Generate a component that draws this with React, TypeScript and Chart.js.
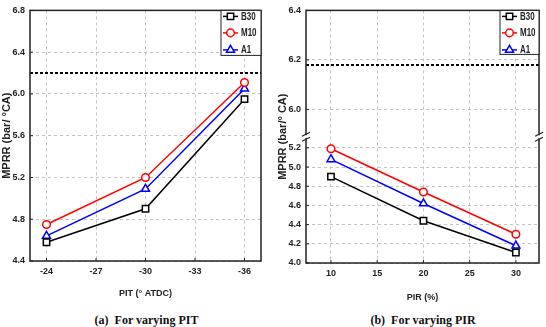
import React, { useEffect, useRef } from 'react';
import { Chart, registerables } from 'chart.js';
Chart.register(...registerables);

// ---------- data ----------
const SERIES = ['B30', 'M10', 'A1'];
const COLORS = ['#000000', '#ff0000', '#0000ff'];
const STYLES = ['rect', 'circle', 'triangle'];
const RADII = [4.5, 3.8, 4.6];

const pitX = [-24, -30, -36];
const pitB30 = [4.58, 4.9, 5.95];
const pitM10 = [4.75, 5.2, 6.11];
const pitA1 = [4.64, 5.09, 6.05];
const pitTicksX = [-24, -27, -30, -33, -36];
const pitTicksY = [4.4, 4.8, 5.2, 5.6, 6.0, 6.4, 6.8];
const pitLimit = 6.2;

const pirX = [10, 20, 30];
const pirB30 = [4.9, 4.44, 4.11];
const pirM10 = [5.19, 4.74, 4.3];
const pirA1 = [5.08, 4.62, 4.18];
const pirTicksX = [10, 15, 20, 25, 30];
const pirTicksYLow = [4.0, 4.2, 4.4, 4.6, 4.8, 5.0, 5.2];
const pirTicksYHigh = [6.0, 6.2, 6.4];
const pirLimit = 6.18;

// ---------- styles ----------
const SANS = "'Liberation Sans', Arial, sans-serif";
const TICK_FONT = { family: SANS, size: 9, weight: 'bold' as const };
const INK = '#222';

function drawMarker(ctx: CanvasRenderingContext2D, style: string, x: number, y: number, r: number) {
  ctx.beginPath();
  if (style === 'rect') {
    const s = Math.SQRT1_2 * r;
    ctx.rect(x - s, y - s, 2 * s, 2 * s);
  } else if (style === 'circle') {
    ctx.arc(x, y, r, 0, Math.PI * 2);
  } else {
    for (let i = 0; i < 3; i++) {
      const a = (i * 2 * Math.PI) / 3;
      const px = x + Math.sin(a) * r;
      const py = y - Math.cos(a) * r;
      if (i === 0) ctx.moveTo(px, py);
      else ctx.lineTo(px, py);
    }
    ctx.closePath();
  }
  ctx.fill();
  ctx.stroke();
}

function seriesDatasets(xs: number[], ys: number[][]) {
  return ys.map((vals, i) => ({
    label: SERIES[i],
    data: xs.map((x, j) => ({ x, y: vals[j] })),
    borderColor: COLORS[i],
    backgroundColor: '#ffffff',
    pointBackgroundColor: '#ffffff',
    pointBorderColor: COLORS[i],
    pointStyle: STYLES[i],
    pointRadius: RADII[i],
    pointBorderWidth: 1.5,
    borderWidth: 1.5,
    yAxisID: 'y',
  }));
}

function limitDataset(x0: number, x1: number, y: number, axis: string) {
  return {
    label: 'limit',
    data: [{ x: x0, y }, { x: x1, y }],
    borderColor: '#000000',
    borderDash: [3, 2],
    borderWidth: 2,
    pointRadius: 0,
    yAxisID: axis,
  };
}

function framePlugin(opts: { legendW: number; legendH: number; breakAxis?: string; yTitle?: { text: string; x: number } }) {
  return {
    id: 'frameDeco',
    afterDraw(chart: any) {
      const ctx: CanvasRenderingContext2D = chart.ctx;
      const a = chart.chartArea;
      ctx.save();
      ctx.strokeStyle = INK;
      ctx.lineWidth = 1;
      ctx.setLineDash([]);
      const line = (x1: number, y1: number, x2: number, y2: number) => {
        ctx.beginPath();
        ctx.moveTo(x1, y1);
        ctx.lineTo(x2, y2);
        ctx.stroke();
      };
      // inward tick marks
      const xs = chart.scales.x;
      xs.ticks.forEach((t: any) => {
        const px = xs.getPixelForValue(t.value);
        line(px, a.bottom, px, a.bottom - 3);
      });
      Object.values(chart.scales).forEach((s: any) => {
        if (s.axis !== 'y') return;
        s.ticks.forEach((t: any) => {
          const py = s.getPixelForValue(t.value);
          line(a.left, py, a.left + 3, py);
        });
      });
      // frame
      ctx.lineWidth = 1.5;
      ctx.strokeRect(a.left, a.top, a.right - a.left, a.bottom - a.top);
      // axis break
      if (opts.breakAxis) {
        const by = chart.scales[opts.breakAxis].bottom;
        [a.left, a.right].forEach((bx: number) => {
          ctx.fillStyle = '#ffffff';
          ctx.fillRect(bx - 2, by - 1.5, 4, 3);
          ctx.lineWidth = 1.2;
          line(bx - 4, by - 0.5, bx + 4, by - 4.5);
          line(bx - 4, by + 4.5, bx + 4, by + 0.5);
        });
      }
      // legend
      const lx = a.right - opts.legendW;
      const ly = a.top;
      ctx.fillStyle = '#ffffff';
      ctx.fillRect(lx, ly, opts.legendW, opts.legendH);
      ctx.lineWidth = 1;
      ctx.strokeStyle = INK;
      ctx.strokeRect(lx, ly, opts.legendW, opts.legendH);
      const rows = [6, 22.5, 39.5];
      SERIES.forEach((name, i) => {
        const y = ly + rows[i];
        ctx.strokeStyle = COLORS[i];
        ctx.lineWidth = 1.5;
        line(lx + 2, y, lx + 17, y);
        ctx.fillStyle = '#ffffff';
        drawMarker(ctx, STYLES[i], lx + 9.5, y, RADII[i]);
        // condensed label
        ctx.save();
        ctx.translate(lx + 20, y + 0.5);
        ctx.scale(0.8, 1);
        ctx.font = `bold 10px ${SANS}`;
        ctx.textBaseline = 'middle';
        ctx.textAlign = 'left';
        ctx.fillStyle = INK;
        ctx.fillText(name, 0, 0);
        ctx.restore();
      });
      // custom y title
      if (opts.yTitle) {
        ctx.save();
        ctx.translate(opts.yTitle.x, (a.top + a.bottom) / 2);
        ctx.rotate(-Math.PI / 2);
        ctx.font = `bold 11px ${SANS}`;
        ctx.fillStyle = INK;
        ctx.textAlign = 'center';
        ctx.textBaseline = 'middle';
        ctx.fillText(opts.yTitle.text, 0, 0);
        ctx.restore();
      }
      ctx.restore();
    },
  };
}

const gridOpt = { color: '#c4c4c4', lineWidth: 1, drawTicks: false };
const borderOpt = { display: false, dash: [3, 3] };
const tickOpt = { color: INK, font: TICK_FONT, padding: 5, autoSkip: false, maxRotation: 0 };
const setTicks = (arr: number[]) => (s: any) => {
  s.ticks = arr.map((v) => ({ value: v }));
};

function buildLeft(): any {
  return {
    type: 'line',
    data: {
      datasets: [...seriesDatasets(pitX, [pitB30, pitM10, pitA1]), limitDataset(-23, -37, pitLimit, 'y')],
    },
    options: {
      animation: false,
      responsive: false,
      layout: { padding: { top: 10, right: 12, left: 0, bottom: 0 } },
      plugins: { legend: { display: false }, tooltip: { enabled: false } },
      scales: {
        x: {
          type: 'linear',
          reverse: true,
          min: -37,
          max: -23,
          afterBuildTicks: setTicks(pitTicksX),
          afterFit: (s: any) => { s.height = 52; },
          grid: gridOpt,
          border: borderOpt,
          ticks: { ...tickOpt, callback: (v: any) => String(v) },
          title: { display: true, text: 'PIT (° ATDC)', color: INK, font: TICK_FONT, padding: { top: 0, bottom: 14.5 } },
        },
        y: {
          type: 'linear',
          min: 4.4,
          max: 6.8,
          afterBuildTicks: setTicks(pitTicksY),
          afterFit: (s: any) => { s.width = 30; },
          grid: gridOpt,
          border: borderOpt,
          ticks: { ...tickOpt, callback: (v: any) => Number(v).toFixed(1) },
          title: { display: true, text: 'MPRR (bar/ °CA)', color: INK, font: { family: SANS, size: 11, weight: 'bold' }, padding: { top: 0, bottom: 0 } },
        },
      },
    },
    plugins: [framePlugin({ legendW: 40, legendH: 45 })],
  };
}

function buildRight(): any {
  return {
    type: 'line',
    data: {
      datasets: [...seriesDatasets(pirX, [pirB30, pirM10, pirA1]), limitDataset(7.3, 32.5, pirLimit, 'y2')],
    },
    options: {
      animation: false,
      responsive: false,
      layout: { padding: { top: 9, right: 7, left: 0, bottom: 0 } },
      plugins: { legend: { display: false }, tooltip: { enabled: false } },
      scales: {
        x: {
          type: 'linear',
          min: 7.3,
          max: 32.5,
          afterBuildTicks: setTicks(pirTicksX),
          afterFit: (s: any) => { s.height = 50; },
          grid: gridOpt,
          border: borderOpt,
          ticks: { ...tickOpt, callback: (v: any) => String(v) },
          title: { display: true, text: 'PIR (%)', color: INK, font: TICK_FONT, padding: { top: 0, bottom: 10.5 } },
        },
        y: {
          type: 'linear',
          position: 'left',
          stack: 'ys',
          stackWeight: 1,
          min: 4.0,
          max: 5.316,
          afterBuildTicks: setTicks(pirTicksYLow),
          afterFit: (s: any) => { s.width = 33; },
          grid: gridOpt,
          border: borderOpt,
          ticks: { ...tickOpt, callback: (v: any) => Number(v).toFixed(1) },
        },
        y2: {
          type: 'linear',
          position: 'left',
          stack: 'ys',
          stackWeight: 1,
          min: 5.89,
          max: 6.4,
          afterBuildTicks: setTicks(pirTicksYHigh),
          afterFit: (s: any) => { s.width = 33; },
          grid: gridOpt,
          border: borderOpt,
          ticks: { ...tickOpt, callback: (v: any) => Number(v).toFixed(1) },
        },
      },
    },
    plugins: [framePlugin({ legendW: 39, legendH: 44, breakAxis: 'y2', yTitle: { text: 'MPRR (bar/° CA)', x: 10 } })],
  };
}

const captionStyle = (cx: number): React.CSSProperties => ({
  position: 'absolute',
  left: cx,
  top: 313,
  transform: 'translateX(-50%)',
  font: "bold 12px 'Liberation Serif', 'Times New Roman', serif",
  lineHeight: '14px',
  whiteSpace: 'pre',
  color: '#111',
});

export default function App() {
  const leftRef = useRef<HTMLCanvasElement>(null);
  const rightRef = useRef<HTMLCanvasElement>(null);
  useEffect(() => {
    const c1 = new Chart(leftRef.current as HTMLCanvasElement, buildLeft());
    const c2 = new Chart(rightRef.current as HTMLCanvasElement, buildRight());
    return () => {
      c1.destroy();
      c2.destroy();
    };
  }, []);
  return (
    <div style={{ position: 'fixed', left: 0, top: 0, width: 546, height: 327, background: '#ffffff', overflow: 'hidden' }}>
      <canvas ref={leftRef} width={273} height={313} style={{ position: 'absolute', left: 0, top: 0, width: 273, height: 313 }} />
      <canvas ref={rightRef} width={273} height={313} style={{ position: 'absolute', left: 273, top: 0, width: 273, height: 313 }} />
      <div style={captionStyle(146.5)}>(a)  For varying PIT</div>
      <div style={captionStyle(423)}>(b)  For varying PIR</div>
    </div>
  );
}
